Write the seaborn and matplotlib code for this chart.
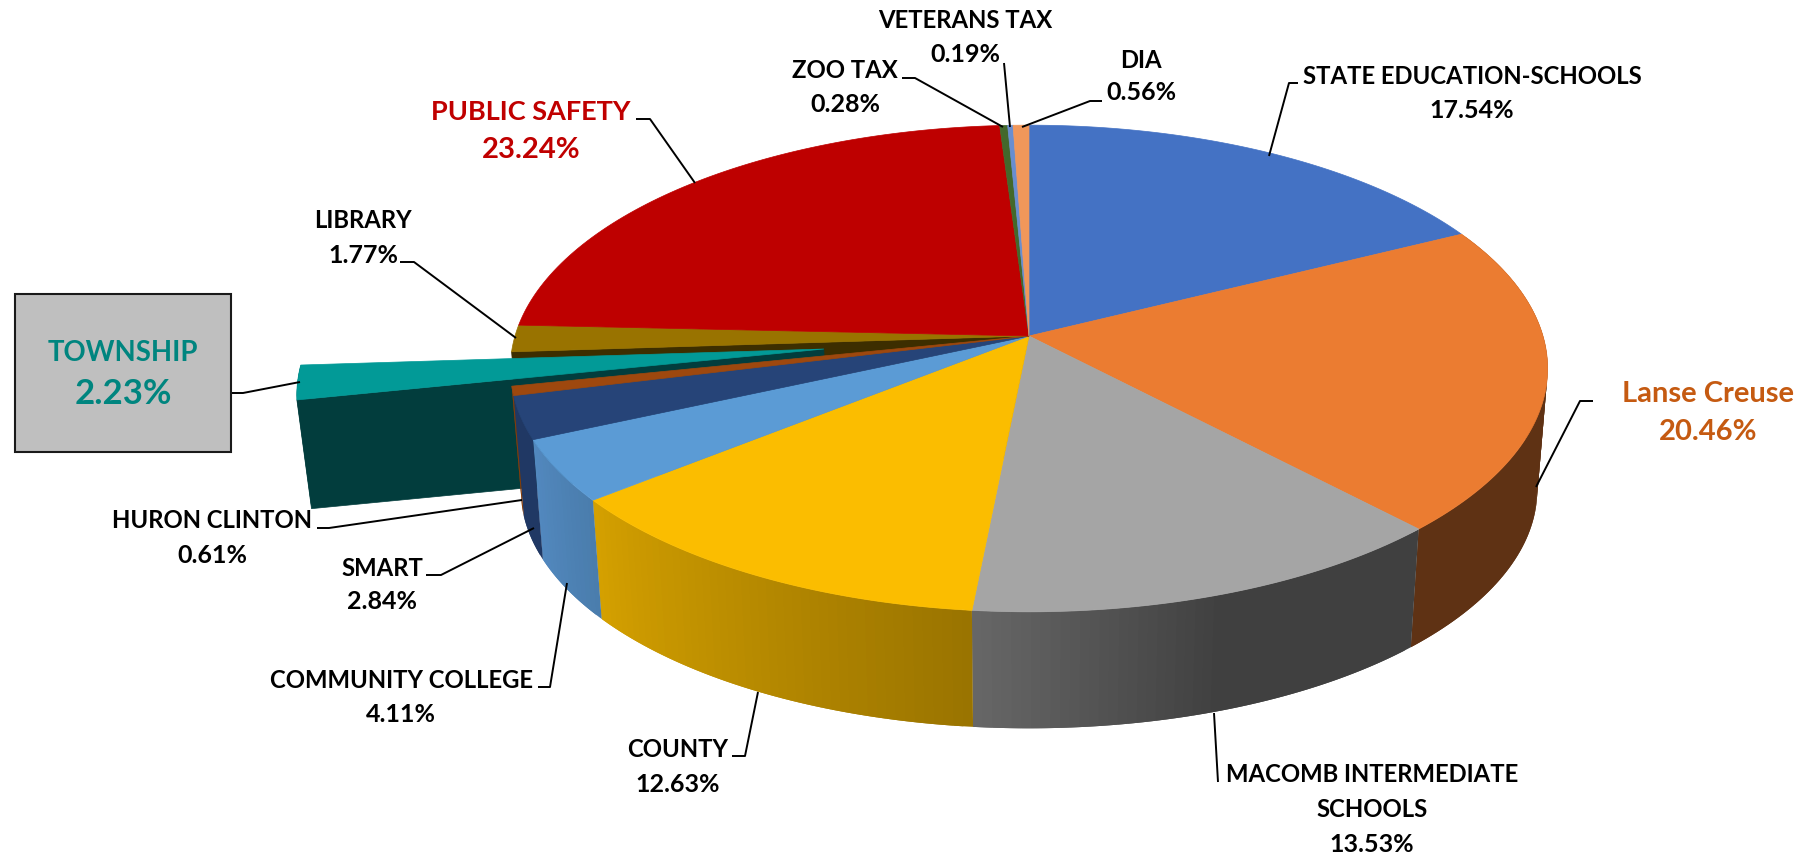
import numpy as np
import matplotlib
matplotlib.use("Agg")
import matplotlib.pyplot as plt
import seaborn as sns

# values, clockwise from 12 o'clock
categories = ["STATE EDUCATION-SCHOOLS", "Lanse Creuse", "MACOMB INTERMEDIATE\nSCHOOLS", "COUNTY",
              "COMMUNITY COLLEGE", "SMART", "HURON CLINTON", "TOWNSHIP", "LIBRARY",
              "PUBLIC SAFETY", "ZOO TAX", "VETERANS TAX", "DIA"]
shares = [17.54, 20.46, 13.53, 12.63, 4.11, 2.84, 0.61, 2.23, 1.77, 23.24, 0.28, 0.19, 0.56]

top_colors = ["#4472C4", "#EB7C31", "#A5A5A5", "#FBBD00", "#5B9BD5", "#264478", "#9E480E",
              "#029A97", "#997300", "#BE0000", "#43682B", "#698ED0", "#F1975A"]
# side wall shading, in clockwise order along the rim
side_stops = {"Lanse Creuse": ["#5F3214", "#5F3214"],
              "MACOMB INTERMEDIATE\nSCHOOLS": ["#404040", "#404040", "#666666"],
              "COUNTY": ["#9A7400", "#D4A000"],
              "COMMUNITY COLLEGE": ["#4A7DAD", "#5288BE"],
              "SMART": ["#203864", "#203864"],
              "HURON CLINTON": ["#843C0C", "#843C0C"],
              "TOWNSHIP": ["#023D3D", "#023D3D"]}
library_wall = "#3D2E00"

# pie geometry in pixels, with a simple perspective
cx, cy = 1029, 336
rx, ry, persp = 514, 239, 0.1335
depth, shrink = 122, 0.98
explode_name, explode, explode_depth = "TOWNSHIP", 0.40, 110


def project(theta, r=1.0, off=(0.0, 0.0), low=False, d=depth):
    u = r * np.sin(theta) + off[0]
    v = r * np.cos(theta) + off[1]
    f = 1 / (1 + persp * v)
    x = rx * u * f
    y = -ry * v * f
    if low:
        return cx + shrink * x, cy + shrink * y + d
    return cx + x, cy + y


def fill_top(ax, a0, a1, color, off=(0.0, 0.0)):
    th = np.linspace(a0, a1, 80)
    x, y = project(th, off=off)
    tx, ty = project(np.array([0.0]), r=0.0, off=off)
    ax.fill(np.r_[tx, x], np.r_[ty, y], color=color, lw=0.5, zorder=3)


def fill_rim(ax, a0, a1, stops, off=(0.0, 0.0), z=2, d=depth):
    n = max(2, int((a1 - a0) * 60))
    pal = sns.blend_palette(stops, n)
    edges = np.linspace(a0, a1, n + 1)
    for i in range(n):
        # each strip runs on under the next one so no seam shows
        th = np.linspace(edges[i], edges[min(i + 2, n)], 6)
        x0, y0 = project(th, off=off)
        x1, y1 = project(th, off=off, low=True, d=d)
        ax.fill(np.r_[x0, x1[::-1]], np.r_[y0, y1[::-1]], color=pal[i], lw=0, zorder=z)


def fill_radial(ax, angle, color, off=(0.0, 0.0), z=1, d=depth):
    x0, y0 = project(np.array([0.0, angle]), r=np.array([0.0, 1.0]), off=off)
    x1, y1 = project(np.array([0.0, angle]), r=np.array([0.0, 1.0]), off=off, low=True, d=d)
    ax.fill([x0[0], x0[1], x1[1], x1[0]], [y0[0], y0[1], y1[1], y1[0]], color=color, lw=0.5, zorder=z)


sns.set_theme(style="white")
plt.rcParams["font.family"] = ["Lato", "DejaVu Sans"]
plt.rcParams["font.weight"] = "bold"

fig = plt.figure(figsize=(18.17, 8.55), dpi=100)
ax = fig.add_axes([0, 0, 1, 1])
ax.set_xlim(0, 1817)
ax.set_ylim(855, 0)
ax.axis("off")

palette = sns.color_palette(top_colors)
bounds = np.r_[0, np.cumsum(shares)] / np.sum(shares) * 2 * np.pi

# the pulled out slice and the wall behind it come first
i_ex = categories.index(explode_name)
i_lib = categories.index("LIBRARY")
fill_radial(ax, bounds[i_lib], library_wall, z=1)
mid = (bounds[i_ex] + bounds[i_ex + 1]) / 2
off = (explode * np.sin(mid), explode * np.cos(mid))
fill_radial(ax, bounds[i_ex], side_stops[explode_name][0], off=off, z=1.2, d=explode_depth)
fill_rim(ax, bounds[i_ex], bounds[i_ex + 1], side_stops[explode_name], off=off, z=1.2, d=explode_depth)
th = np.linspace(bounds[i_ex], bounds[i_ex + 1], 20)
x, y = project(th, off=off)
tx, ty = project(np.array([0.0]), r=0.0, off=off)
ax.fill(np.r_[tx, x], np.r_[ty, y], color=palette[i_ex], lw=0.5, zorder=1.4)

for i, name in enumerate(categories):
    if name == explode_name:
        continue
    if name in side_stops:
        fill_rim(ax, bounds[i], bounds[i + 1], side_stops[name], z=2)
    fill_top(ax, bounds[i], bounds[i + 1], palette[i])

# label x, name y, share y, and leader lines
label_pos = {"STATE EDUCATION-SCHOOLS": (1472, 76, 111), "Lanse Creuse": (1708, 394, 432),
             "MACOMB INTERMEDIATE\nSCHOOLS": (1372, 792, 844), "COUNTY": (678, 749, 784),
             "COMMUNITY COLLEGE": (401, 680, 714), "SMART": (382, 568, 601),
             "HURON CLINTON": (212, 520, 555), "TOWNSHIP": (123, 353, 394),
             "LIBRARY": (363, 220, 255), "PUBLIC SAFETY": (531, 112, 150),
             "ZOO TAX": (845, 71, 105), "VETERANS TAX": (965, 20, 55), "DIA": (1141, 60, 93)}
leaders = {"STATE EDUCATION-SCHOOLS": [(1269, 156), (1289, 83), (1298, 83)],
           "Lanse Creuse": [(1536, 487), (1580, 401), (1593, 401)],
           "MACOMB INTERMEDIATE\nSCHOOLS": [(1214, 713), (1218, 782)],
           "COUNTY": [(758, 692), (745, 756), (732, 756)],
           "COMMUNITY COLLEGE": [(567, 583), (550, 687), (538, 687)],
           "SMART": [(534, 528), (441, 575), (426, 575)],
           "HURON CLINTON": [(522, 500), (329, 528), (317, 528)],
           "TOWNSHIP": [(300, 382), (243, 393), (231, 393)],
           "LIBRARY": [(516, 338), (414, 262), (400, 262)],
           "PUBLIC SAFETY": [(695, 183), (650, 119), (636, 119)],
           "ZOO TAX": [(1003, 127), (915, 78), (902, 78)],
           "VETERANS TAX": [(1010, 127), (1004, 63)],
           "DIA": [(1022, 127), (1090, 101), (1102, 101)]}
# colour, name size, share size
label_style = {"Lanse Creuse": ("#C55A11", 21, 21), "PUBLIC SAFETY": ("#C00000", 19.5, 21),
               "TOWNSHIP": ("#00857F", 19.8, 25)}

for name, pts in leaders.items():
    ax.plot(*zip(*pts), color="black", lw=1.4, zorder=4, solid_capstyle="butt")

ax.add_patch(plt.Rectangle((15, 294), 216, 158, facecolor="#BFBFBF", edgecolor="#1A1A1A", lw=1.5, zorder=5))

for name, share in zip(categories, shares):
    color, name_size, share_size = label_style.get(name, ("black", 17.2, 18))
    x, y_name, y_share = label_pos[name]
    ax.text(x, y_name, name, ha="center", va="center", color=color, fontsize=name_size,
            fontweight="bold", linespacing=1.65, zorder=6)
    ax.text(x, y_share, f"{share:.2f}%", ha="center", va="center", color=color, fontsize=share_size,
            fontweight="bold", zorder=6)

fig.savefig("out.png", dpi=100)
